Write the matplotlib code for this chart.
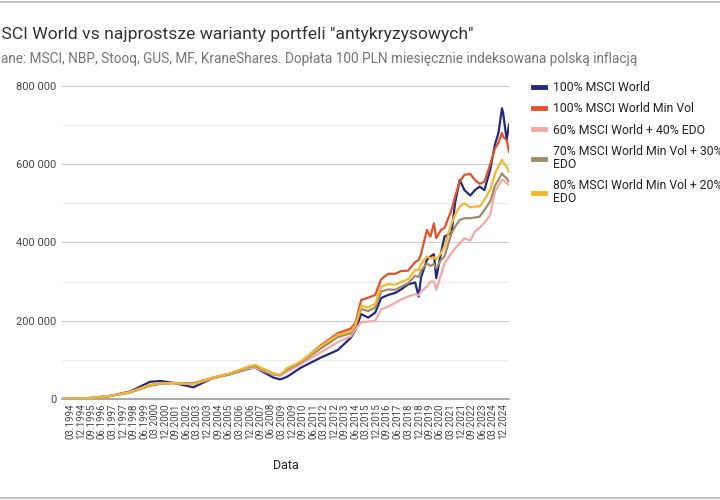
import numpy as np
import pandas as pd
import matplotlib
matplotlib.use("Agg")
import matplotlib.pyplot as plt
from matplotlib.lines import Line2D

# values, thousands PLN
dates = ["1993-08", "1995-08", "1997-01", "1998-06", "1999-11", "2000-08", "2001-07",
         "2002-12", "2004-05", "2005-07", "2006-12", "2007-05", "2008-08", "2009-02",
         "2009-08", "2010-07", "2011-12", "2013-03", "2014-02",
         "2014-06", "2014-11", "2015-05", "2015-11", "2016-04", "2016-10", "2017-04",
         "2017-09", "2018-03", "2018-09", "2018-12", "2019-02", "2019-07", "2019-10",
         "2020-01", "2020-03", "2020-07", "2020-10", "2021-04", "2021-07", "2021-11",
         "2022-03", "2022-08", "2022-12", "2023-04", "2023-08", "2024-01", "2024-05",
         "2024-08", "2024-11", "2024-12", "2025-03", "2025-05"]

msci_world = [0.1, 2.5, 8, 19, 44, 46, 41, 30, 54, 63, 78, 80, 55, 50, 57, 79, 105, 125, 156,
              176, 217, 208, 221, 258, 266, 271, 280, 293, 298, 262, 310, 356, 364, 370, 309,
              373, 415, 425, 500, 560, 534, 520, 534, 543, 534, 586, 650, 680, 743, 731, 662,
              701]
min_vol = [0.1, 2.5, 7.5, 17, 34, 39, 41, 40, 55, 65, 83, 85, 65, 60, 76, 93, 136, 168, 180,
           194, 253, 259, 266, 306, 320, 320, 327, 328, 350, 355, 370, 432, 415, 449, 411,
           432, 437, 483, 517, 556, 573, 575, 560, 550, 555, 600, 640, 655, 680, 670, 662,
           632]
world_edo = [0.1, 2.5, 7.5, 17, 36, 41, 40, 38, 53, 63, 79, 80, 62, 60, 70, 88, 118, 145, 160,
             178, 196, 198, 200, 229, 236, 246, 254, 262, 268, 265, 275, 287, 300, 300, 279,
             317, 347, 373, 385, 398, 411, 405, 428, 438, 450, 470, 530, 545, 560, 560, 552,
             547]
minvol70_edo = [0.1, 2.5, 7.5, 17, 35, 40, 41, 39, 54, 64, 82, 84, 63, 61, 76, 92, 128, 158,
                168, 185, 230, 225, 234, 275, 280, 279, 287, 296, 315, 312, 328, 347, 340, 345,
                334, 355, 364, 424, 440, 458, 462, 462, 464, 466, 483, 505, 545, 560, 577, 572,
                564, 556]
minvol80_edo = [0.1, 2.5, 7.7, 18, 36, 40, 41, 38, 55, 65, 84, 87, 64, 62, 79, 95, 134, 164,
                172, 189, 238, 234, 243, 287, 294, 292, 299, 306, 330, 330, 345, 364, 360, 362,
                356, 373, 390, 449, 470, 492, 500, 490, 492, 492, 509, 535, 575, 595, 611, 605,
                594, 581]

series_names = ["100% MSCI World", "100% MSCI World Min Vol", "60% MSCI World + 40% EDO",
                "70% MSCI World Min Vol + 30%\nEDO", "80% MSCI World Min Vol + 20%\nEDO"]
series_colors = ["#232a7e", "#e2512a", "#f2a9a6", "#a08c68", "#f3b72b"]

plt.rcParams['font.family'] = ['Roboto', 'DejaVu Sans']

first = pd.Period("1993-08", "M")
x = [(pd.Period(d, "M") - first).n for d in dates]

fig = plt.figure(figsize=(7.2, 5.0), dpi=100)
ax = fig.add_axes([62 / 720, 1 - 399 / 500, (509 - 62) / 720, (399 - 86) / 500])

all_series = [msci_world, min_vol, world_edo, minvol70_edo, minvol80_edo]
order = [2, 3, 4, 1, 0]
for i in order:
    ax.plot(x, np.array(all_series[i]) * 1000, color=series_colors[i], lw=1.6, zorder=3 + i * 0.1)

ax.set_xlim(0, x[-1])
ax.set_ylim(0, 800000)
yt = np.arange(0, 800001, 200000)
ax.set_yticks(yt)
ax.set_yticklabels([f"{v:,}".replace(",", " ") for v in yt], fontsize=8, color="#444444")
ax.set_yticks(np.arange(100000, 800000, 200000), minor=True)
ax.grid(axis="y", which="major", color="#cccccc", lw=0.8)
ax.grid(axis="y", which="minor", color="#ebebeb", lw=0.8)
ax.set_axisbelow(True)

# tick labels every 9 months starting 03.1994
tick_periods = pd.period_range("1994-03", "2024-12", freq="M")[::9]
ax.set_xticks([(p - first).n for p in tick_periods])
ax.set_xticklabels([p.strftime("%m.%Y") for p in tick_periods], rotation=90,
                   fontsize=7, color="#444444")
ax.tick_params(axis="both", which="both", length=0, pad=4)
ax.tick_params(axis="x", pad=3)

for s in ["top", "right", "left"]:
    ax.spines[s].set_visible(False)
ax.spines["bottom"].set_color("#999999")
ax.spines["bottom"].set_linewidth(1.2)

ax.set_xlabel("Data", fontsize=9, color="#222222", labelpad=14)

fig.text(-14 / 720, 1 - 34 / 500, 'MSCI World vs najprostsze warianty portfeli "antykryzysowych"',
         fontsize=12.6, color="#333333", va="center", ha="left")
fig.text(-8 / 720, 1 - 59 / 500,
         "Dane: MSCI, NBP, Stooq, GUS, MF, KraneShares. Dopłata 100 PLN miesięcznie indeksowana polską inflacją",
         fontsize=9.8, color="#757575", va="center", ha="left")

handles = [Line2D([0], [0], color=c, lw=3.5) for c in series_colors]
leg = fig.legend(handles, series_names, loc="upper left", bbox_to_anchor=(522 / 720, 1 - 70 / 500),
                 frameon=False, fontsize=8.8, labelcolor="#222222", handlelength=1.0,
                 handletextpad=0.65, labelspacing=0.68)
for t in leg.get_texts():
    t.set_linespacing(1.0)

fig.add_artist(Line2D([0, 1], [1 - 1.5 / 500, 1 - 1.5 / 500], color="#b8b8b8", lw=1.2))
fig.add_artist(Line2D([0, 1], [1 - 498 / 500, 1 - 498 / 500], color="#b8b8b8", lw=1.2))

fig.savefig("out.png", dpi=100)
